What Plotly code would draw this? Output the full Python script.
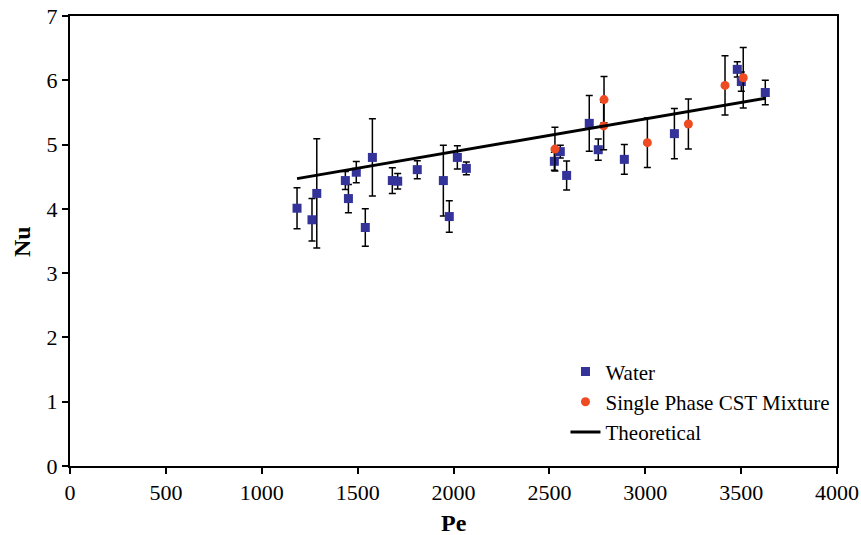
import plotly.graph_objects as go

water_pe = [1184, 1262, 1287, 1436, 1452, 1493, 1540, 1577, 1681, 1709, 1811, 1947, 1978, 2020, 2067,
            2526, 2557, 2590, 2708, 2755, 2891, 3152, 3480, 3501, 3626]
water_nu = [4.01, 3.83, 4.24, 4.44, 4.16, 4.57, 3.71, 4.80, 4.44, 4.43, 4.61, 4.44, 3.88, 4.80, 4.63,
            4.74, 4.89, 4.52, 5.33, 4.92, 4.77, 5.17, 6.17, 5.98, 5.81]
water_err = [0.32, 0.33, 0.85, 0.14, 0.22, 0.165, 0.29, 0.60, 0.20, 0.12, 0.14, 0.55, 0.245, 0.18, 0.10,
             0.14, 0.10, 0.225, 0.435, 0.165, 0.23, 0.39, 0.12, 0.15, 0.19]

cst_pe = [2529, 2785, 2783, 3011, 3225, 3416, 3511]
cst_nu = [4.93, 5.70, 5.29, 5.03, 5.32, 5.92, 6.04]
cst_err = [0.34, 0.36, 0.37, 0.385, 0.39, 0.46, 0.47]

theo_pe = [1184, 3626]
theo_nu = [4.47, 5.72]

serif = "Liberation Serif"

fig = go.Figure()
fig.add_trace(go.Scatter(
    x=water_pe, y=water_nu, mode="markers", name="Water",
    marker=dict(symbol="square", size=9, color="#333399"),
    error_y=dict(type="data", array=water_err, visible=True, color="black", thickness=1.5, width=3.5),
))
fig.add_trace(go.Scatter(
    x=cst_pe, y=cst_nu, mode="markers", name="Single Phase CST Mixture",
    marker=dict(symbol="circle", size=9, color="#EE4B22"),
    error_y=dict(type="data", array=cst_err, visible=True, color="black", thickness=1.5, width=3.5),
))
fig.add_trace(go.Scatter(
    x=theo_pe, y=theo_nu, mode="lines", name="Theoretical",
    line=dict(color="black", width=3),
))

axis_common = dict(
    showline=True, linecolor="black", linewidth=2, mirror=True,
    ticks="outside", ticklen=6, tickwidth=1.5, tickcolor="black",
    showgrid=False, zeroline=False, automargin=False,
    tickfont=dict(family=serif, size=22, color="black"),
)
fig.update_xaxes(range=[0, 4000], dtick=500, tick0=0, **axis_common)
fig.update_yaxes(range=[0, 7], dtick=1, tick0=0, **axis_common)

fig.add_annotation(text="<b>Pe</b>", xref="paper", yref="paper", x=0.5, y=-0.127,
                   xanchor="center", yanchor="middle", showarrow=False,
                   font=dict(family=serif, size=24, color="black"))
fig.add_annotation(text="<b>Nu</b>", xref="paper", yref="paper", x=-0.0626, y=0.5,
                   xanchor="center", yanchor="middle", showarrow=False, textangle=-90,
                   font=dict(family=serif, size=24, color="black"))

fig.update_layout(
    width=861, height=535,
    margin=dict(l=70, r=24, t=16, b=69),
    plot_bgcolor="white", paper_bgcolor="white",
    font=dict(family=serif, color="black"),
    legend=dict(x=0.646, y=0.255, xanchor="left", yanchor="top",
                font=dict(family=serif, size=21, color="black"),
                bgcolor="rgba(0,0,0,0)", tracegroupgap=0, itemwidth=30),
    showlegend=True,
)

fig.write_html("out.html", config={"displayModeBar": False},
               post_script="document.body.style.margin='0px';document.body.style.padding='0px';")
